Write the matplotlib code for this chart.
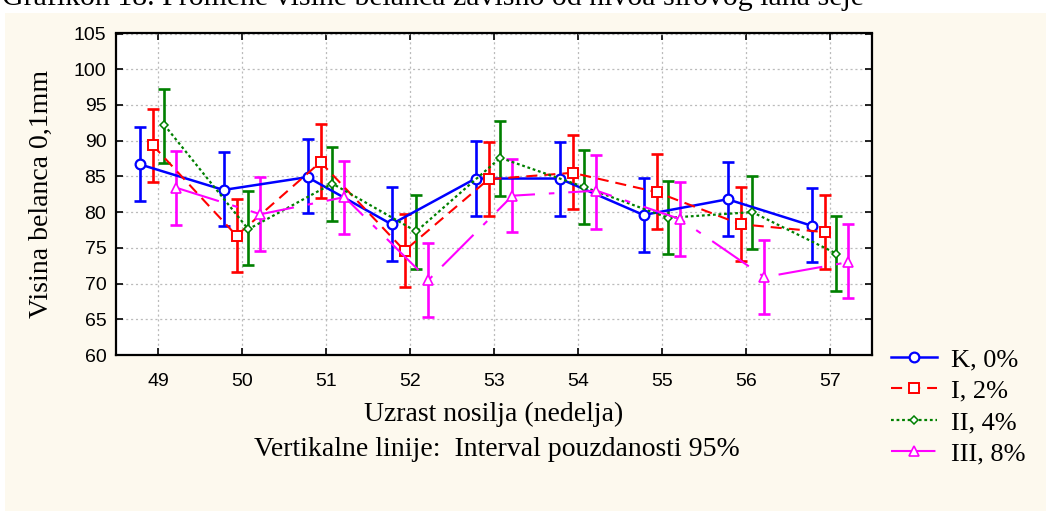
import matplotlib
matplotlib.use("Agg")
import matplotlib.pyplot as plt
from matplotlib.patches import Rectangle
import numpy as np

plt.rcParams['lines.scale_dashes'] = False

weeks = [49, 50, 51, 52, 53, 54, 55, 56, 57]
series_labels = ['K, 0%', 'I, 2%', 'II, 4%', 'III, 8%']

k_mean = [86.7, 83.1, 84.9, 78.3, 84.7, 84.7, 79.6, 81.8, 78.1]
k_low = [81.5, 78.0, 79.9, 73.1, 79.5, 79.4, 74.4, 76.6, 73.0]
k_high = [91.9, 88.4, 90.2, 83.5, 89.9, 89.8, 84.8, 87.0, 83.4]

i_mean = [89.4, 76.7, 87.0, 74.6, 84.6, 85.5, 82.8, 78.3, 77.2]
i_low = [84.2, 71.6, 82.0, 69.5, 79.4, 80.5, 77.7, 73.1, 72.1]
i_high = [94.5, 81.9, 92.3, 79.8, 89.8, 90.8, 88.1, 83.5, 82.4]

ii_mean = [92.2, 77.6, 84.0, 77.3, 87.6, 83.5, 79.2, 80.0, 74.2]
ii_low = [86.9, 72.6, 78.7, 72.1, 82.3, 78.3, 74.1, 74.8, 69.0]
ii_high = [97.2, 82.9, 89.1, 82.4, 92.7, 88.7, 84.4, 85.1, 79.4]

iii_mean = [83.4, 79.7, 82.1, 70.5, 82.3, 83.0, 79.0, 70.9, 73.0]
iii_low = [78.2, 74.5, 76.9, 65.3, 77.2, 77.7, 73.9, 65.8, 68.0]
iii_high = [88.5, 84.9, 87.2, 75.7, 87.5, 88.0, 84.2, 76.1, 78.3]

W, H = 1051, 511
fig = plt.figure(figsize=(W / 100, H / 100), dpi=100)
fig.patch.set_facecolor('white')
fig.patches.append(Rectangle((5 / W, 0), 1041 / W, 1 - 13 / H, transform=fig.transFigure,
                             facecolor='#FDF9EE', edgecolor='none', zorder=-10))

ax = fig.add_axes([116 / W, 1 - 355 / H, (872 - 116) / W, (355 - 33.5) / H])
ax.set_facecolor('white')

styles = [
    dict(color='#0000FF', marker='o', ms=7, mew=1.6, lw=1.8, dashes=None),
    dict(color='#FF0000', marker='s', ms=6.5, mew=1.4, lw=1.5, dashes=[8, 5]),
    dict(color='#008000', marker='D', ms=4.2, mew=1.1, lw=1.6, dashes=[2, 2]),
    dict(color='#FF00FF', marker='^', ms=6.5, mew=1.2, lw=1.5, dashes=[32, 10, 4, 10]),
]
offsets = [-0.22, -0.065, 0.075, 0.22]
means = [k_mean, i_mean, ii_mean, iii_mean]
lows = [k_low, i_low, ii_low, iii_low]
highs = [k_high, i_high, ii_high, iii_high]

handles = []
for st, off, m, lo, hi, lab in zip(styles, offsets, means, lows, highs, series_labels):
    x = np.array(weeks) + off
    m = np.array(m)
    yerr = [m - np.array(lo), np.array(hi) - m]
    ax.errorbar(x, m, yerr=yerr, fmt='none', ecolor=st['color'], elinewidth=1.9,
                capsize=4.0, capthick=1.9, zorder=3)
    line, = ax.plot(x, m, color=st['color'], lw=st['lw'], marker=st['marker'],
                    ms=st['ms'], mew=st['mew'], mfc='white', mec=st['color'],
                    label=lab, zorder=4)
    if st['dashes'] is not None:
        line.set_dashes(st['dashes'])
    handles.append(line)

ax.set_xlim(48.5, 57.5)
ax.set_ylim(60, 105)
ax.set_xticks(weeks)
ax.set_yticks(np.arange(60, 106, 5))
ax.grid(True, color='#BBBBBB', linestyle=(0, (1.5, 2)), linewidth=0.9)
ax.set_axisbelow(True)
ax.tick_params(direction='in', length=5, width=1.2, top=True, right=True,
               labelsize=14, pad=7)
ax.tick_params(axis='x', pad=13)
for lbl in ax.get_xticklabels() + ax.get_yticklabels():
    lbl.set_fontfamily('Liberation Sans')
for sp in ax.spines.values():
    sp.set_linewidth(1.6)

ax.set_ylabel('Visina belanca 0,1mm', fontfamily='Liberation Serif', fontsize=20, labelpad=14)

fig.text(494 / W, 1 - 414 / H, 'Uzrast nosilja (nedelja)', ha='center', va='center',
         fontfamily='Liberation Serif', fontsize=20)
fig.text(497 / W, 1 - 450 / H, 'Vertikalne linije:  Interval pouzdanosti 95%', ha='center',
         va='center', fontfamily='Liberation Serif', fontsize=20)

fig.text(2 / W, 1 - 5 / H, 'Grafikon 18. Promene visine belanca zavisno od nivoa sirovog lana seje',
         ha='left', va='baseline', fontfamily='Liberation Serif', fontsize=21.5)

leg = fig.legend(handles=handles, labels=series_labels, loc='upper left',
                 bbox_to_anchor=(867 / W, 1 - 324 / H), frameon=False,
                 prop={'family': 'Liberation Serif', 'size': 19},
                 handlelength=1.75, handletextpad=0.55, labelspacing=0.3)

fig.savefig('out.png', dpi=100, facecolor=fig.get_facecolor())
